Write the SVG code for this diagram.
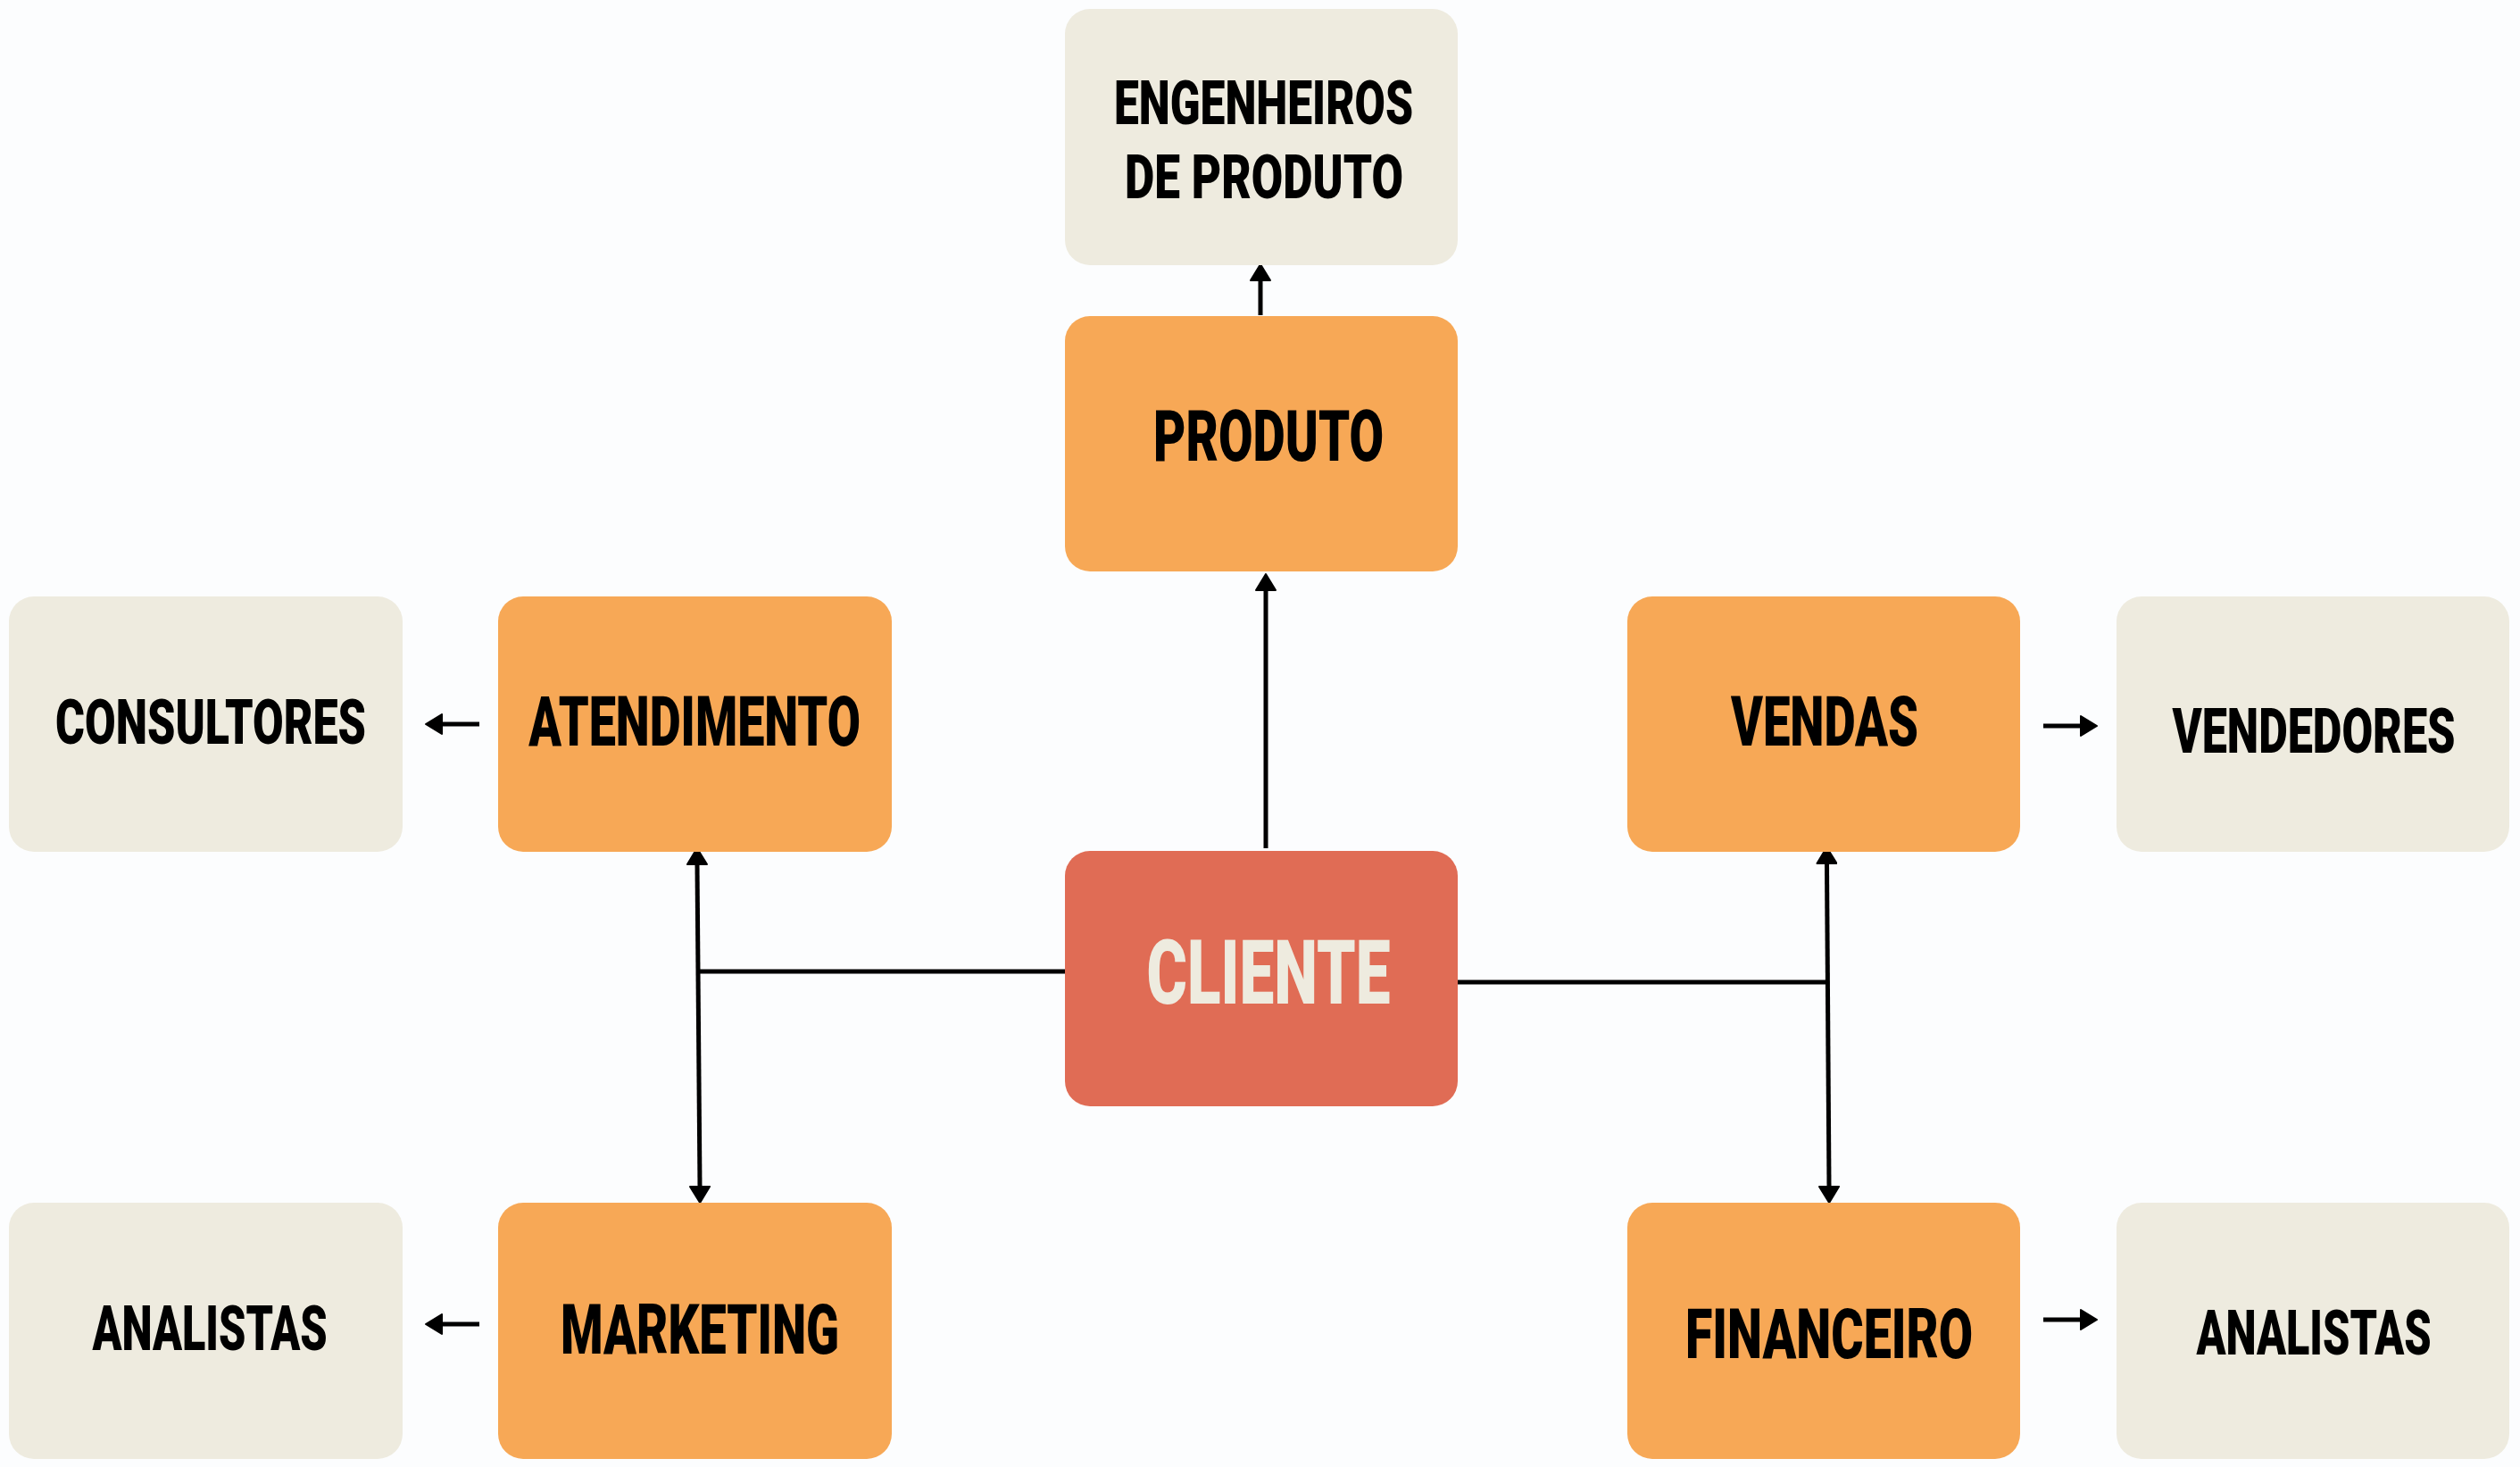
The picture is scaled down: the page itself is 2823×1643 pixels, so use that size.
<svg xmlns="http://www.w3.org/2000/svg" width="2823" height="1643" viewBox="0 0 2823 1643">
<style>
.bg{fill:#FCFDFE}
.org{fill:#F7A856}
.bei{fill:#EEEBDF}
.red{fill:#E06C55}
.t{font-family:Roboto,"Liberation Sans","DejaVu Sans",sans-serif;font-weight:900;text-anchor:middle;fill:#000}
.tc{fill:#EEEBDF}
.c{stroke:#000;stroke-width:5;fill:none}
</style>
<defs>
<marker id="ah" viewBox="-1 -1 20 24" refX="0" refY="11" markerWidth="20" markerHeight="24" markerUnits="userSpaceOnUse" orient="auto-start-reverse">
<path d="M0,0 L18,11 L0,22 Z" fill="#000" stroke="#000" stroke-width="2" stroke-linejoin="round"/>
</marker>
</defs>
<rect class="bg" x="0" y="0" width="2823" height="1643"/>
<g id="connectors">
<line class="c" x1="1412" y1="353" x2="1412" y2="314" marker-end="url(#ah)"/>
<line class="c" x1="1418" y1="950" x2="1418" y2="661" marker-end="url(#ah)"/>
<line class="c" x1="1194" y1="1088" x2="781" y2="1088"/>
<line class="c" x1="781" y1="968" x2="784" y2="1329" marker-start="url(#ah)" marker-end="url(#ah)"/>
<line class="c" x1="1633" y1="1100" x2="2046" y2="1100"/>
<line class="c" x1="2046.5" y1="967" x2="2049" y2="1329" marker-start="url(#ah)" marker-end="url(#ah)"/>
<line class="c" x1="537" y1="811" x2="495" y2="811" marker-end="url(#ah)"/>
<line class="c" x1="537" y1="1483" x2="495" y2="1483" marker-end="url(#ah)"/>
<line class="c" x1="2289" y1="813" x2="2331" y2="813" marker-end="url(#ah)"/>
<line class="c" x1="2289" y1="1478" x2="2331" y2="1478" marker-end="url(#ah)"/>
</g>
<g id="engenheiros">
<rect class="bei" x="1193" y="10" width="440" height="287" rx="28"/>
<text class="t" transform="translate(1415.5 0) scale(0.7 1)" x="0" y="139" font-size="68" textLength="478.6" lengthAdjust="spacingAndGlyphs">ENGENHEIROS</text>
<text class="t" transform="translate(1416 0) scale(0.7 1)" x="0" y="222" font-size="68" textLength="445.7" lengthAdjust="spacingAndGlyphs">DE PRODUTO</text>
</g>
<g id="produto">
<rect class="org" x="1193" y="354" width="440" height="286" rx="28"/>
<text class="t" transform="translate(1421 0) scale(0.7 1)" x="0" y="516" font-size="80" textLength="368.6" lengthAdjust="spacingAndGlyphs">PRODUTO</text>
</g>
<g id="cliente">
<rect class="red" x="1193" y="953" width="440" height="286" rx="28"/>
<text class="t tc" transform="translate(1421 0) scale(0.7 1)" x="0" y="1124" font-size="100" textLength="390" lengthAdjust="spacingAndGlyphs">CLIENTE</text>
</g>
<g id="consultores">
<rect class="bei" x="10" y="668" width="441" height="286" rx="28"/>
<text class="t" transform="translate(236 0) scale(0.7 1)" x="0" y="833" font-size="70" textLength="497" lengthAdjust="spacingAndGlyphs">CONSULTORES</text>
</g>
<g id="atendimento">
<rect class="org" x="558" y="668" width="441" height="286" rx="28"/>
<text class="t" transform="translate(778 0) scale(0.7 1)" x="0" y="835" font-size="77" textLength="531" lengthAdjust="spacingAndGlyphs">ATENDIMENTO</text>
</g>
<g id="vendas">
<rect class="org" x="1823" y="668" width="440" height="286" rx="28"/>
<text class="t" transform="translate(2044 0) scale(0.7 1)" x="0" y="835" font-size="77" textLength="300" lengthAdjust="spacingAndGlyphs">VENDAS</text>
</g>
<g id="vendedores">
<rect class="bei" x="2371" y="668" width="440" height="286" rx="28"/>
<text class="t" transform="translate(2592 0) scale(0.7 1)" x="0" y="843" font-size="70" textLength="453" lengthAdjust="spacingAndGlyphs">VENDEDORES</text>
</g>
<g id="analistas-marketing">
<rect class="bei" x="10" y="1347" width="441" height="287" rx="28"/>
<text class="t" transform="translate(235 0) scale(0.7 1)" x="0" y="1512" font-size="70" textLength="376" lengthAdjust="spacingAndGlyphs">ANALISTAS</text>
</g>
<g id="marketing">
<rect class="org" x="558" y="1347" width="441" height="287" rx="28"/>
<text class="t" transform="translate(784 0) scale(0.7 1)" x="0" y="1516" font-size="77" textLength="446" lengthAdjust="spacingAndGlyphs">MARKETING</text>
</g>
<g id="financeiro">
<rect class="org" x="1823" y="1347" width="440" height="287" rx="28"/>
<text class="t" transform="translate(2049 0) scale(0.7 1)" x="0" y="1521" font-size="77" textLength="460" lengthAdjust="spacingAndGlyphs">FINANCEIRO</text>
</g>
<g id="analistas-financeiro">
<rect class="bei" x="2371" y="1347" width="440" height="287" rx="28"/>
<text class="t" transform="translate(2592 0) scale(0.7 1)" x="0" y="1517" font-size="70" textLength="376" lengthAdjust="spacingAndGlyphs">ANALISTAS</text>
</g>
</svg>
